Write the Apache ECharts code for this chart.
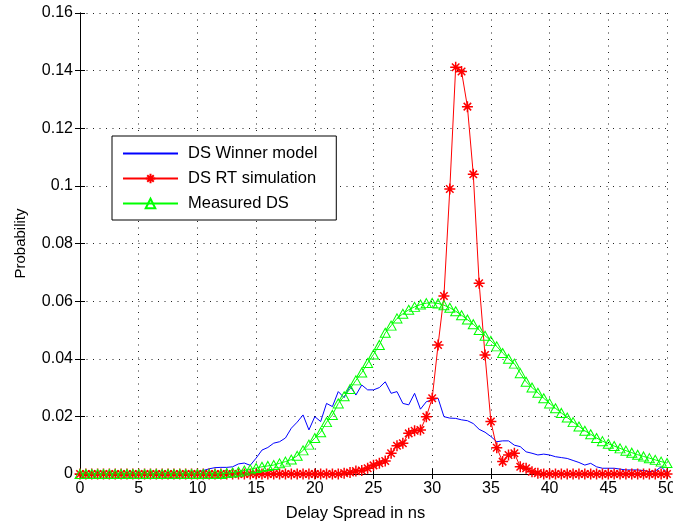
<!DOCTYPE html>
<html>
<head>
<meta charset="utf-8">
<script src="https://cdn.jsdelivr.net/npm/echarts@6/dist/echarts.min.js"></script>
<style>
html,body{margin:0;padding:0;background:#fff;overflow:hidden;}
#chart{width:673px;height:521px;}
</style>
</head>
<body>
<div id="chart"></div>
<script>
var delaySpread = [0,0.5,1,1.5,2,2.5,3,3.5,4,4.5,5,5.5,6,6.5,7,7.5,8,8.5,9,9.5,
10,10.5,11,11.5,12,12.5,13,13.5,14,14.5,15,15.5,16,16.5,17,17.5,18,18.5,19,19.5,
20,20.5,21,21.5,22,22.5,23,23.5,24,24.5,25,25.5,26,26.5,27,27.5,28,28.5,29,29.5,
30,30.5,31,31.5,32,32.5,33,33.5,34,34.5,35,35.5,36,36.5,37,37.5,38,38.5,39,39.5,
40,40.5,41,41.5,42,42.5,43,43.5,44,44.5,45,45.5,46,46.5,47,47.5,48,48.5,49,49.5,50];

var winnerModel = [0,0,0,0,0,0,0,0,0,0,0,0,0,0,0,0,0,0,0,0,
0.0005,0.0012,0.0018,0.0022,0.0023,0.0023,0.0025,0.0035,0.0038,0.003,
0.0055,0.0083,0.0092,0.0107,0.0112,0.0125,0.0159,0.018,0.0205,0.0153,
0.0199,0.0182,0.0245,0.0234,0.0286,0.0265,0.0305,0.0274,0.0309,0.0292,
0.0292,0.030,0.032,0.028,0.0286,0.0245,0.024,0.028,0.0225,0.0251,
0.0257,0.0263,0.0199,0.0194,0.0193,0.0188,0.0185,0.0175,0.0155,0.0145,
0.013,0.0112,0.0115,0.0115,0.0100,0.0095,0.0077,0.0072,0.0066,0.0069,
0.0066,0.006,0.0057,0.0054,0.0047,0.004,0.0031,0.0037,0.0025,0.002,
0.002,0.002,0.0017,0.0014,0.0014,0.0014,0.0012,0.0008,0.001,0.0025,0.0005];

var rtSimulation = [0,0,0,0,0,0,0,0,0,0,0,0,0,0,0,0,0,0,0,0,
0,0,0,0,0,0,0,0,0,0,0,0,0,0,0,0,0,0,0,0,
0,0,0,0,0,0.0003,0.0005,0.001,0.0012,0.002,
0.003,0.0037,0.0045,0.0072,0.0098,0.0107,0.0141,0.015,0.0153,0.0199,
0.0263,0.0448,0.0618,0.0989,0.1412,0.1397,0.1275,0.104,0.0662,0.0413,
0.0182,0.0091,0.0043,0.0066,0.0072,0.0025,0.002,0.0008,0.0003,0,
0,0,0,0,0,0,0,0,0,0,0,0,0,0,0,0,0,0,0,0,0];

var measuredDS = [0,0,0,0,0,0,0,0,0,0,0,0,0,0,0,0,0,0,0,0,
0,0,0,0,0,0.0003,0.0005,0.0008,0.0012,0.0016,
0.0021,0.0025,0.0028,0.0031,0.0037,0.0043,0.005,0.0063,0.0082,0.0102,
0.0125,0.0145,0.018,0.0205,0.0245,0.027,0.0295,0.0325,0.0352,0.0385,
0.0415,0.0448,0.049,0.0515,0.054,0.0556,0.057,0.058,0.0588,0.0593,
0.0594,0.0592,0.0586,0.0577,0.0565,0.0551,0.0536,0.052,0.050,0.048,
0.0462,0.0443,0.042,0.040,0.0383,0.035,0.032,0.030,0.0282,0.0263,
0.0245,0.0228,0.0212,0.0196,0.018,0.0165,0.015,0.0138,0.0125,0.0114,
0.0105,0.0097,0.0089,0.0081,0.0074,0.0067,0.0061,0.0055,0.0049,0.0043,0.0038];

var seriesNames = ['DS Winner model', 'DS RT simulation', 'Measured DS'];
var xTicks = {min: 0, max: 50, interval: 5};
var yTicks = {min: 0, max: 0.16, interval: 0.02};

function pairs(vals) {
  return delaySpread.map(function (x, i) { return [x, vals[i]]; });
}

var FONT = "'Liberation Sans', Arial, sans-serif";
var gridLine = {show: true, lineStyle: {color: '#222', width: 1, type: [1, 5.5]}};
var axisLineStyle = {show: true, lineStyle: {color: '#000', width: 1}};
var tickStyle = {show: true, inside: true, length: 5, lineStyle: {color: '#000', width: 1}};

var asterisk = 'path://M5 0V10M0 5H10M1.6 1.6L8.4 8.4M8.4 1.6L1.6 8.4';

var chart = echarts.init(document.getElementById('chart'), null, {renderer: 'canvas'});
chart.setOption({
  animation: false,
  backgroundColor: '#fff',
  textStyle: {fontFamily: FONT},
  grid: {left: 80, right: 6, top: 13, bottom: 47, containLabel: false, outerBoundsMode: 'none'},
  legend: {
    orient: 'vertical',
    left: 112, top: 136,
    data: [
      {name: seriesNames[0], itemStyle: {opacity: 0}},
      {name: seriesNames[1]},
      {name: seriesNames[2]}
    ],
    itemWidth: 55, itemHeight: 12, itemGap: 8,
    padding: [9, 19, 8, 10],
    borderColor: '#000', borderWidth: 1, backgroundColor: '#fff',
    textStyle: {fontFamily: FONT, fontSize: 16.5, color: '#000', lineHeight: 16, padding: [0, 0, 0, 5]}
  },
  xAxis: [{
    type: 'value', min: xTicks.min, max: xTicks.max, interval: xTicks.interval,
    position: 'bottom',
    name: 'Delay Spread in ns', nameLocation: 'middle', nameGap: 31,
    nameTextStyle: {fontFamily: FONT, fontSize: 16.5, color: '#000', padding: [0, 36, 0, 0]},
    axisLine: axisLineStyle, axisTick: tickStyle,
    axisLabel: {fontFamily: FONT, fontSize: 16, color: '#000', margin: 7},
    splitLine: gridLine
  }, {
    type: 'value', min: xTicks.min, max: xTicks.max, interval: xTicks.interval,
    position: 'top',
    axisLine: axisLineStyle, axisTick: tickStyle,
    axisLabel: {show: false}, splitLine: {show: false}
  }],
  yAxis: [{
    type: 'value', min: yTicks.min, max: yTicks.max, interval: yTicks.interval,
    position: 'left',
    name: 'Probability', nameLocation: 'middle', nameGap: 52,
    nameTextStyle: {fontFamily: FONT, fontSize: 15, color: '#000'},
    axisLine: axisLineStyle, axisTick: tickStyle,
    axisLabel: {fontFamily: FONT, fontSize: 16, color: '#000', margin: 7},
    splitLine: gridLine
  }, {
    type: 'value', min: yTicks.min, max: yTicks.max, interval: yTicks.interval,
    position: 'right',
    axisLine: axisLineStyle, axisTick: tickStyle,
    axisLabel: {show: false}, splitLine: {show: false}
  }],
  series: [{
    name: seriesNames[0], type: 'line', data: pairs(winnerModel),
    symbol: 'circle', showSymbol: false,
    lineStyle: {color: '#0000ff', width: 1},
    itemStyle: {color: '#0000ff', opacity: 0},
    z: 2
  }, {
    name: seriesNames[1], type: 'line', data: pairs(rtSimulation),
    symbol: asterisk, symbolSize: 11, showAllSymbol: true,
    lineStyle: {color: '#ff0000', width: 1},
    itemStyle: {color: '#ff0000', borderColor: '#ff0000', borderWidth: 1.5},
    z: 3
  }, {
    name: seriesNames[2], type: 'line', data: pairs(measuredDS),
    symbol: 'triangle', symbolSize: [10, 9], showAllSymbol: true,
    lineStyle: {color: '#00ff00', width: 1},
    itemStyle: {color: 'rgba(255,255,255,0)', borderColor: '#00ff00', borderWidth: 1},
    z: 4
  }]
});
</script>
</body>
</html>
